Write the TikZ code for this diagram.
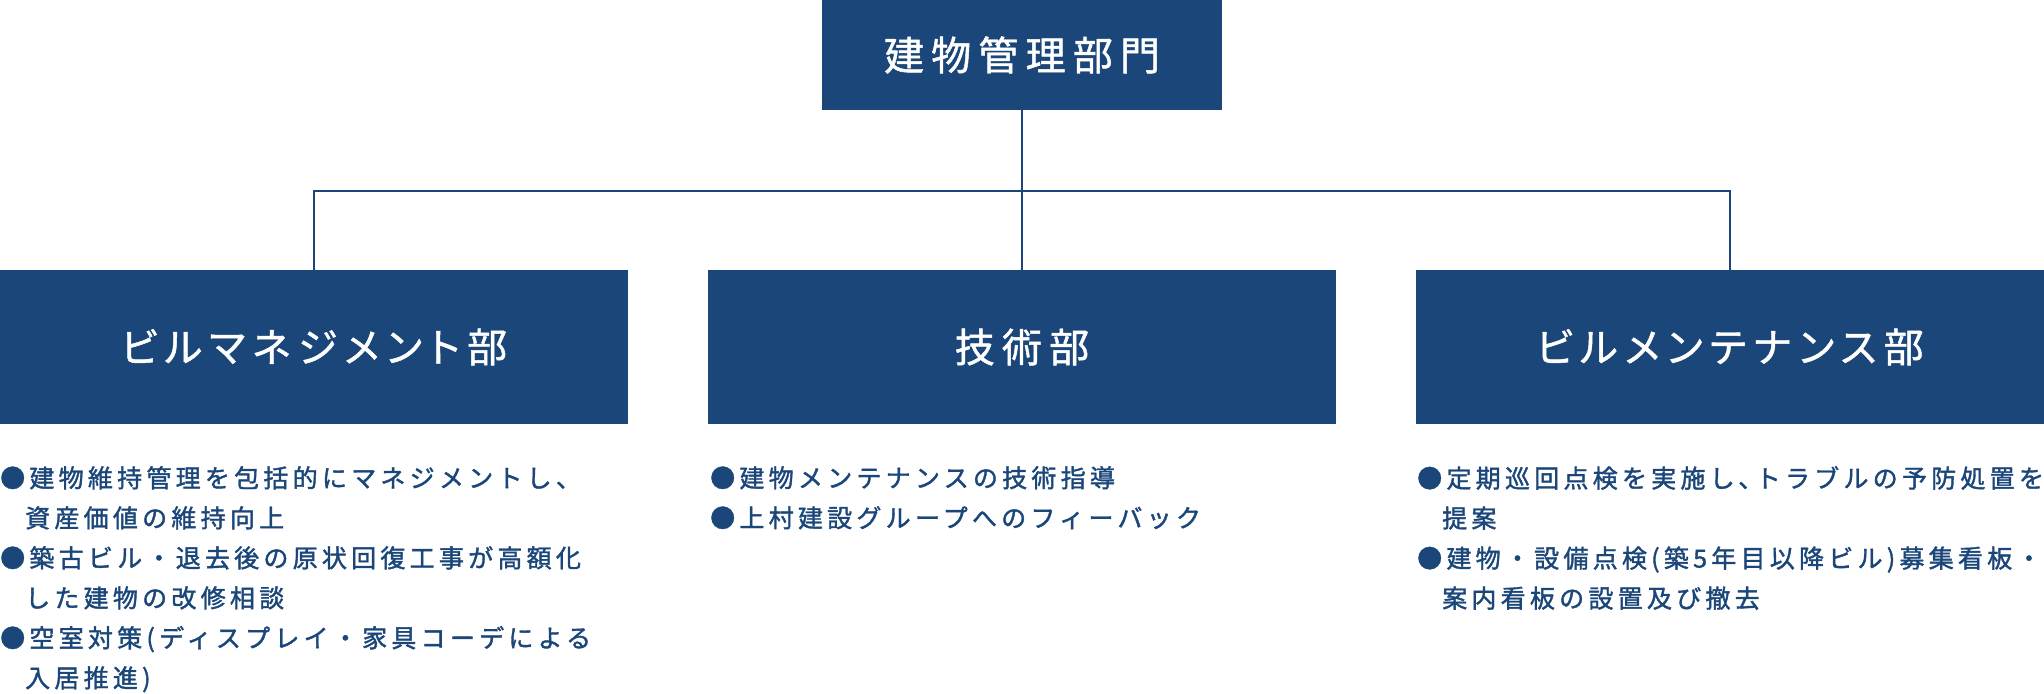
\documentclass[tikz,border=0pt]{standalone}
\usepackage{fontspec}
\usetikzlibrary{calc}
\newfontfamily\jpbody{Noto Sans CJK JP}[LetterSpace=17,FakeBold=1.5]
\newfontfamily\jphead{Noto Sans CJK JP}[LetterSpace=18,FakeBold=1.2,RawFeature=+palt]
\definecolor{navy}{HTML}{1A4679}
\newcommand\bul{●}
\newcommand\ind{\hphantom{●}}
\tikzset{
  dept/.style={fill=navy,text=white,inner sep=0,minimum height=154,
    font=\jphead\fontsize{40}{48}\selectfont},
  conn/.style={draw=navy,line width=1.8},
  duties/.style={anchor=north west,inner sep=0,align=left,text=navy,
    font=\jpbody\fontsize{25}{40}\selectfont}
}

\begin{document}
\begin{tikzpicture}[x=1pt,y=-1pt]
      \useasboundingbox (0,0) rectangle (2044,693);

      \node (head) at (1022,55) [dept,minimum width=400,minimum height=110] {建物管理部門};
      \node (mgmt) at (314,347) [dept,minimum width=628] {ビルマネジメント部};
      \node (tech) at (1022,347) [dept,minimum width=628] {技術部};
      \node (maint) at (1730,347) [dept,minimum width=628] {ビルメンテナンス部};

      \coordinate (bus) at (1022,191);
      \draw[conn] (head.south) -- (tech.north);
      \draw[conn] (mgmt.north) -- (mgmt.north |- bus) -- (maint.north |- bus) -- (maint.north);

      \node (mgmtlist) at (0,466) [duties] {\bul 建物維持管理を包括的にマネジメントし、\\
        \ind 資産価値の維持向上\\
        \bul 築古ビル・退去後の原状回復工事が高額化\\
        \ind した建物の改修相談\\
        \bul 空室対策(ディスプレイ・家具コーデによる\\
        \ind 入居推進)};
      \node (techlist) at (710,466) [duties] {\bul 建物メンテナンスの技術指導\\
        \bul 上村建設グループへのフィーバック};
      \node (maintlist) at (1417,466) [duties] {\bul 定期巡回点検を実施し､トラブルの予防処置を\\
        \ind 提案\\
        \bul 建物・設備点検(築5年目以降ビル)募集看板・\\
        \ind 案内看板の設置及び撤去};
\end{tikzpicture}
\end{document}
